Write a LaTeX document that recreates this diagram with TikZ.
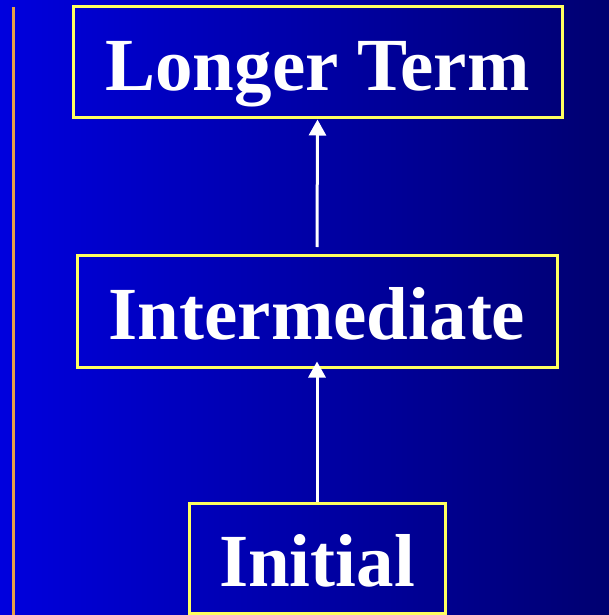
\documentclass[tikz,border=0pt]{standalone}
\usepackage{fontspec}
\setmainfont{Liberation Serif}
\usetikzlibrary{arrows.meta}

\definecolor{bgleft}{RGB}{0,0,222}
\definecolor{bgright}{RGB}{0,0,112}
\definecolor{boxline}{RGB}{255,255,96}
\definecolor{sideline}{RGB}{230,160,70}

\tikzset{
stagebox/.style={draw=boxline, line width=3pt, inner sep=0pt,
  text=white, font=\bfseries\fontsize{75}{80}\selectfont,
  text height=56pt, text depth=0pt, align=center},
stagearrow/.style={draw=white, line width=3pt,
  -{Triangle[width=17pt,length=16pt]}}
}

\begin{document}
\begin{tikzpicture}[x=1pt,y=-1pt]
\shade[left color=bgleft, right color=bgright, shading angle=90] (0,0) rectangle (609,615);
\useasboundingbox (0,0) rectangle (609,615);
\draw[sideline, line width=3pt] (13,7) -- (13,615);

\node[stagebox, minimum width=489pt, minimum height=111pt] (longer) at (317.5,62.5) {Longer Term};
\node[stagebox, minimum width=480pt, minimum height=112pt] (inter) at (317,311) {Intermediate};
\node[stagebox, minimum width=256pt, minimum height=110pt] (initial) at (317,558) {Initial};

\coordinate (gap) at (317,247);
\draw[stagearrow] (gap) -- (longer.south);
\draw[stagearrow] (initial.north) -- ([yshift=7pt]inter.south);
\end{tikzpicture}
\end{document}
